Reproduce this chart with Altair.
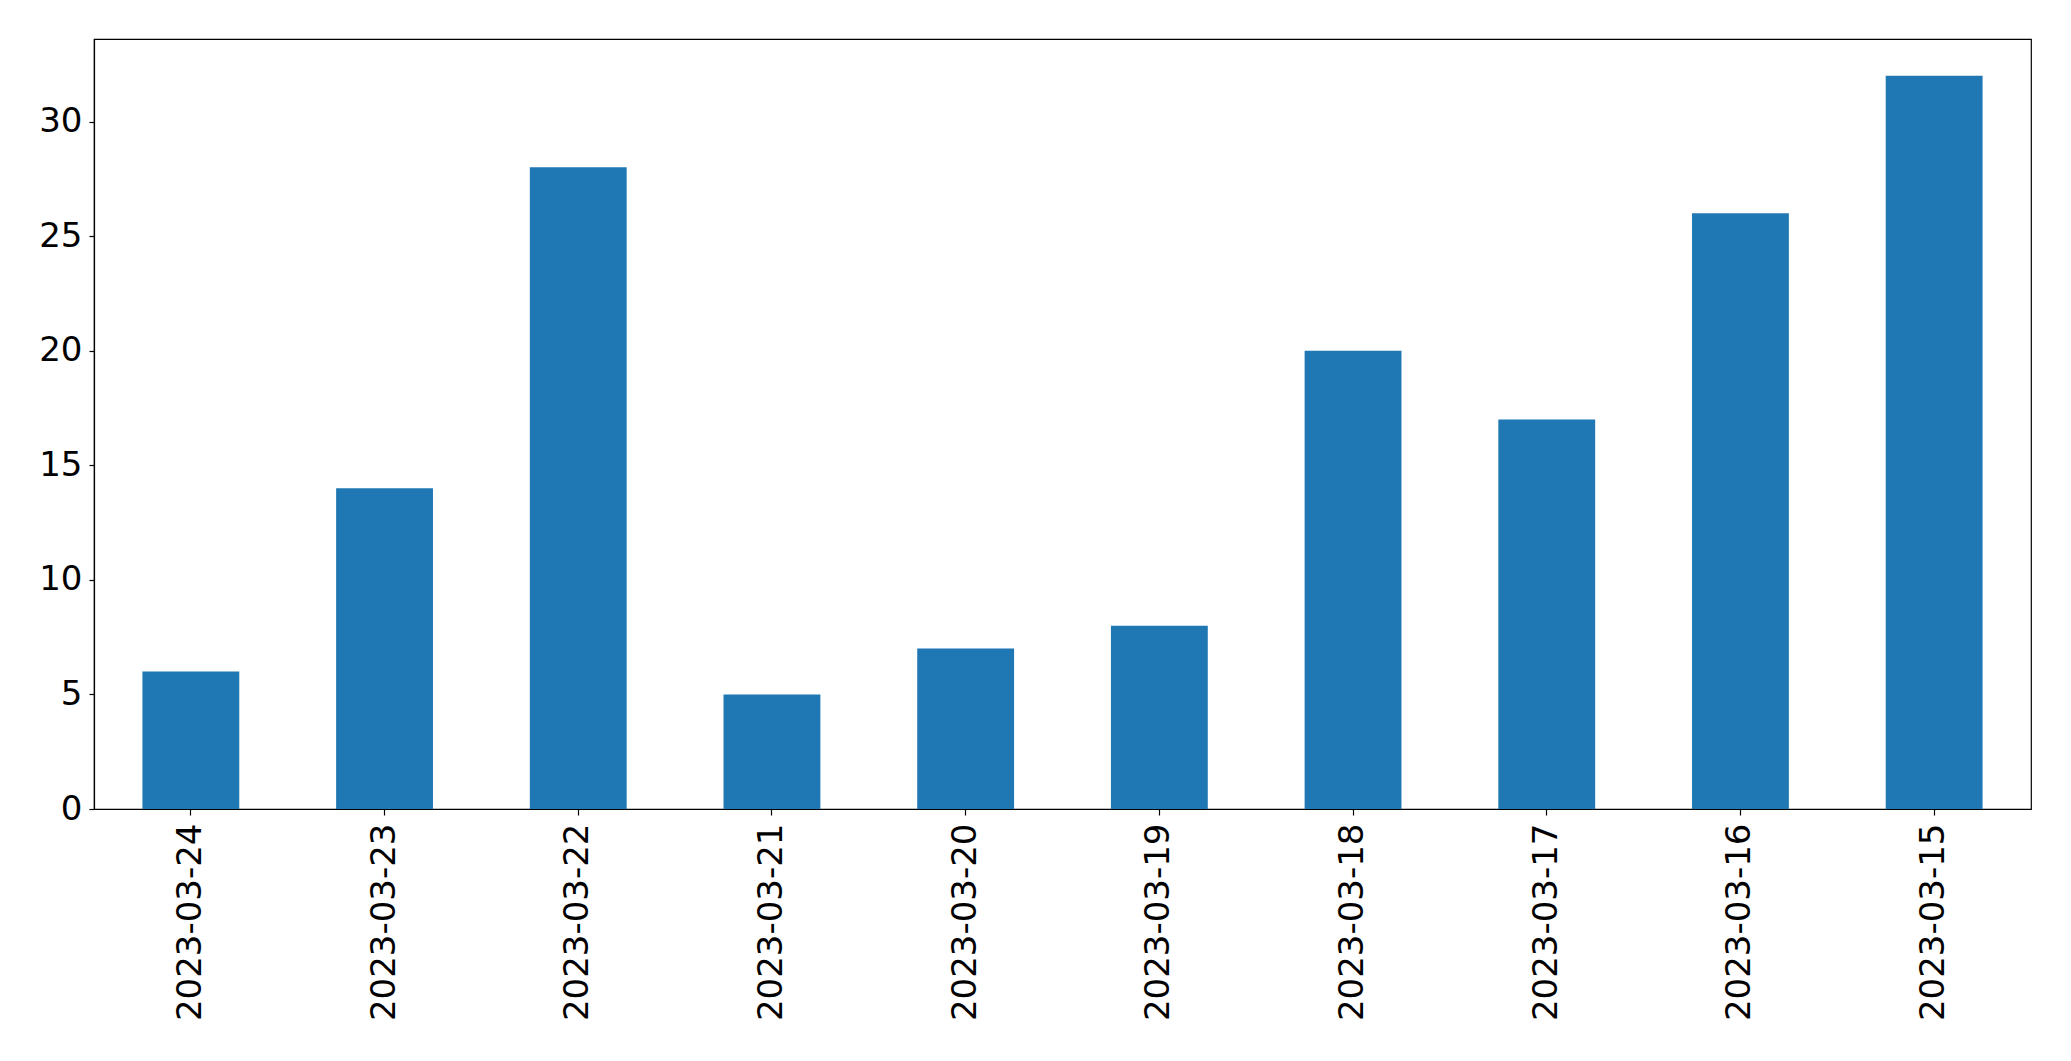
import altair as alt
import pandas as pd

dates = ["2023-03-24", "2023-03-23", "2023-03-22", "2023-03-21", "2023-03-20",
         "2023-03-19", "2023-03-18", "2023-03-17", "2023-03-16", "2023-03-15"]
counts = [6, 14, 28, 5, 7, 8, 20, 17, 26, 32]

df = pd.DataFrame({"date": dates, "count": counts})

chart = alt.Chart(df).mark_bar(color="#1f77b4").encode(
    x=alt.X("date:N", sort=None, title=None,
            scale=alt.Scale(paddingInner=0.5, paddingOuter=0.25),
            axis=alt.Axis(labelAngle=270, labelFontSize=34, labelColor="black",
                          labelFont="DejaVu Sans", tickSize=6, tickColor="black",
                          domainColor="black", labelPadding=8, labelBaseline="middle",
                          labelAlign="right", labelLimit=0)),
    y=alt.Y("count:Q", title=None,
            scale=alt.Scale(domain=[0, 33.6], nice=False, zero=True),
            axis=alt.Axis(values=[0, 5, 10, 15, 20, 25, 30], labelFontSize=34,
                          labelColor="black", labelFont="DejaVu Sans", tickSize=5,
                          tickColor="black", domainColor="black", labelPadding=7,
                          grid=False, labelLimit=0)),
).properties(
    width=1937, height=770,
    autosize=alt.AutoSizeParams(type="none"),
    padding={"left": 86, "top": 31, "right": 30, "bottom": 236},
).configure_view(stroke="black", strokeWidth=1.2).configure_axis(domainWidth=1.2, tickWidth=1.2)

chart.save("out.html", embed_options={"renderer": "svg", "actions": False})
